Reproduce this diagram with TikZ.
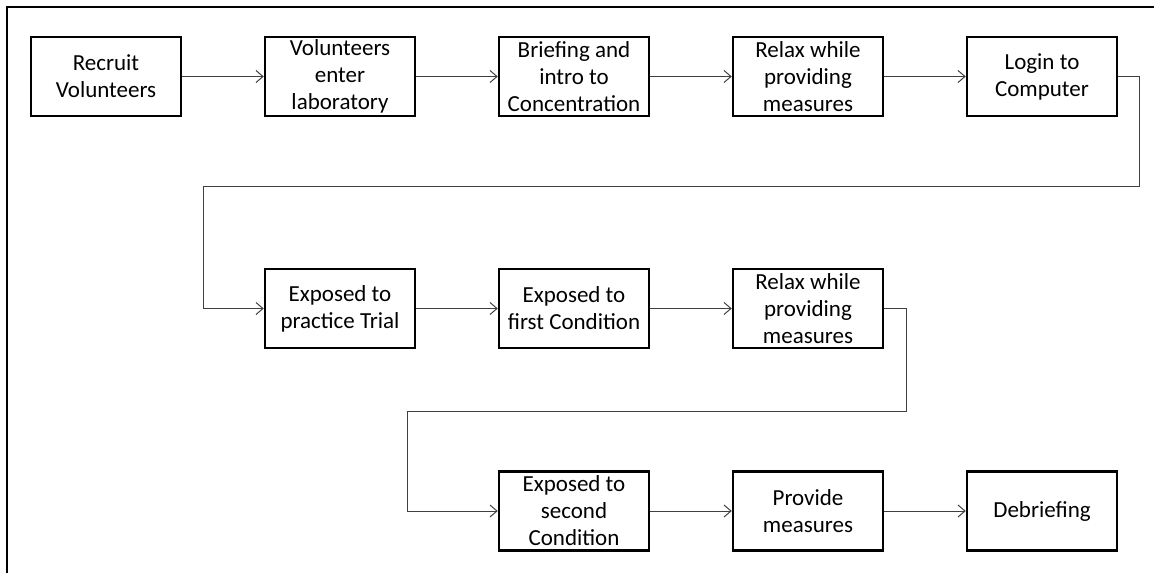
\documentclass[tikz,border=0pt]{standalone}
\usepackage{fontspec}
\setmainfont{Carlito}
\usetikzlibrary{arrows.meta}
\tikzset{
  stage/.style={draw=black, line width=2.5pt, minimum width=150pt, minimum height=79pt,
    align=center, inner sep=2pt, font=\fontsize{23}{27}\selectfont},
  flow/.style={draw=black!75, line width=1pt, -{Straight Barb[length=7pt,width=12pt,line width=1pt]}},
  frame/.style={draw=black, line width=2pt}
}
\begin{document}
\begin{tikzpicture}[x=1pt,y=-1pt]
\useasboundingbox (0,0) rectangle (1154,573);
% partial outer frame
\draw[frame] (7,573) -- (7,7) -- (1154,7);

% first row
\node[stage] (recruit) at (106,76.5) {Recruit\\Volunteers};
\node[stage] (enter)   at (340,76.5) {Volunteers\\enter\\laboratory};
\node[stage] (brief)   at (574,76.5) {Briefing and\\intro to\\Concentration};
\node[stage] (relaxa)  at (808,76.5) {Relax while\\providing\\measures};
\node[stage] (login)   at (1042,76.5) {Login to\\Computer};

% second row
\node[stage] (practice) at (340,308.5) {Exposed to\\practice Trial};
\node[stage] (first)    at (574,308.5) {Exposed to\\first Condition};
\node[stage] (relaxb)   at (808,308.5) {Relax while\\providing\\measures};

% third row
\node[stage] (second)  at (574,511) {Exposed to\\second\\Condition};
\node[stage] (provide) at (808,511) {Provide\\measures};
\node[stage] (debrief) at (1042,511) {Debriefing};

% turning points of the row-to-row connectors
\coordinate (ta) at (1139,186);
\coordinate (tb) at (203,186);
\coordinate (tc) at (906,411);
\coordinate (td) at (407,411);

\draw[flow] (recruit) -- (enter);
\draw[flow] (enter) -- (brief);
\draw[flow] (brief) -- (relaxa);
\draw[flow] (relaxa) -- (login);
\draw[flow] (login.east) -| (ta) -- (tb) |- (practice.west);
\draw[flow] (practice) -- (first);
\draw[flow] (first) -- (relaxb);
\draw[flow] (relaxb.east) -| (tc) -- (td) |- (second.west);
\draw[flow] (second) -- (provide);
\draw[flow] (provide) -- (debrief);
\end{tikzpicture}
\end{document}
